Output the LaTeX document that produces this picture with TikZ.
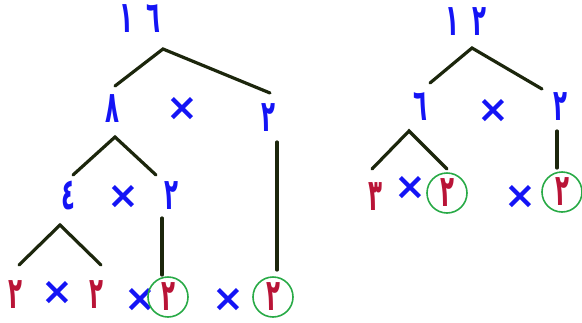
\documentclass[tikz,border=0pt]{standalone}
\usepackage{graphicx}
\usepackage{fontspec}
\newfontfamily\arabicfont[Script=Arabic]{DejaVu Sans}
\newfontfamily\symfont{DejaVu Sans}
\definecolor{numblue}{RGB}{20,20,245}
\definecolor{numred}{RGB}{185,20,55}
\definecolor{branch}{RGB}{28,38,12}
\definecolor{ring}{RGB}{40,170,70}
\newcommand{\dg}[1]{\scalebox{0.52}[1]{#1}}
\tikzset{
  bnum/.style={inner sep=0pt, text=numblue, font=\arabicfont\bfseries\fontsize{44}{44}\selectfont},
  rnum/.style={inner sep=0pt, text=numred, font=\arabicfont\bfseries\fontsize{44}{44}\selectfont},
  times/.style={inner sep=0pt, text=numblue, font=\symfont\bfseries\fontsize{38}{38}\selectfont},
  branchline/.style={draw=branch, line width=3.2pt, line cap=round, line join=miter},
  circ/.style={draw=ring, line width=1.6pt, circle, minimum size=40pt, inner sep=0pt}
}
\begin{document}
\begin{tikzpicture}[x=1pt,y=-1pt]
\useasboundingbox (0,0) rectangle (582,322);
% ---------- left tree ----------
\node[bnum] (L16) at (140,19) {\dg{١}\hspace{13pt}\dg{٦}};
\coordinate (La) at (163,49);
\coordinate (Lal) at (115,86);
\coordinate (Lar) at (270,93);
\draw[branchline] (Lal) -- (La) -- (Lar);
\node[bnum] (L8) at (112,109) {\dg{٨}};
\node[times] (Lx1) at (182,109) {×};
\node[bnum] (L2a) at (268,118) {\dg{٢}};
\coordinate (Lb) at (115,137);
\coordinate (Lbl) at (73,175);
\coordinate (Lbr) at (156,175);
\draw[branchline] (Lbl) -- (Lb) -- (Lbr);
\coordinate (Lv1t) at (277,142);
\coordinate (Lv1b) at (277,270);
\draw[branchline] (Lv1t) -- (Lv1b);
\node[bnum] (L4) at (68,196) {\dg{٤}};
\node[times] (Lx2) at (123,197) {×};
\node[bnum] (L2b) at (171,196) {\dg{٢}};
\coordinate (Lv2t) at (162,218);
\coordinate (Lv2b) at (162,275);
\draw[branchline] (Lv2t) -- (Lv2b);
\coordinate (Lc) at (60,225);
\coordinate (Lcl) at (19,265);
\coordinate (Lcr) at (101,265);
\draw[branchline] (Lcl) -- (Lc) -- (Lcr);
\node[rnum] (L2c) at (15,295) {\dg{٢}};
\node[times] (Lx3) at (57,293) {×};
\node[rnum] (L2d) at (96,295) {\dg{٢}};
\node[times] (Lx4) at (140,300) {×};
\node[rnum] (L2e) at (168,297) {\dg{٢}};
\node[circ] (Lr1) at (168,297) {};
\node[times] (Lx5) at (228,300) {×};
\node[rnum] (L2f) at (273,297) {\dg{٢}};
\node[circ] (Lr2) at (273,297) {};
% ---------- right tree ----------
\node[bnum] (R12) at (466,22) {\dg{١}\hspace{13pt}\dg{٢}};
\coordinate (Ra) at (472,48);
\coordinate (Ral) at (430,83);
\coordinate (Rar) at (542,89);
\draw[branchline] (Ral) -- (Ra) -- (Rar);
\node[bnum] (R6) at (420,107) {\dg{٦}};
\node[times] (Rx1) at (493,111) {×};
\node[bnum] (R2a) at (560,107) {\dg{٢}};
\coordinate (Rvt) at (557,131);
\coordinate (Rvb) at (557,168);
\draw[branchline] (Rvt) -- (Rvb);
\coordinate (Rb) at (409,131);
\coordinate (Rbl) at (372,169);
\coordinate (Rbr) at (447,169);
\draw[branchline] (Rbl) -- (Rb) -- (Rbr);
\node[rnum] (R3) at (375,197) {\dg{٣}};
\node[times] (Rx2) at (410,188) {×};
\node[rnum] (R2b) at (447,193) {\dg{٢}};
\node[circ] (Rr1) at (447,193) {};
\node[times] (Rx3) at (520,197) {×};
\node[rnum] (R2c) at (562,192) {\dg{٢}};
\node[circ] (Rr2) at (562,192) {};
\end{tikzpicture}
\end{document}
